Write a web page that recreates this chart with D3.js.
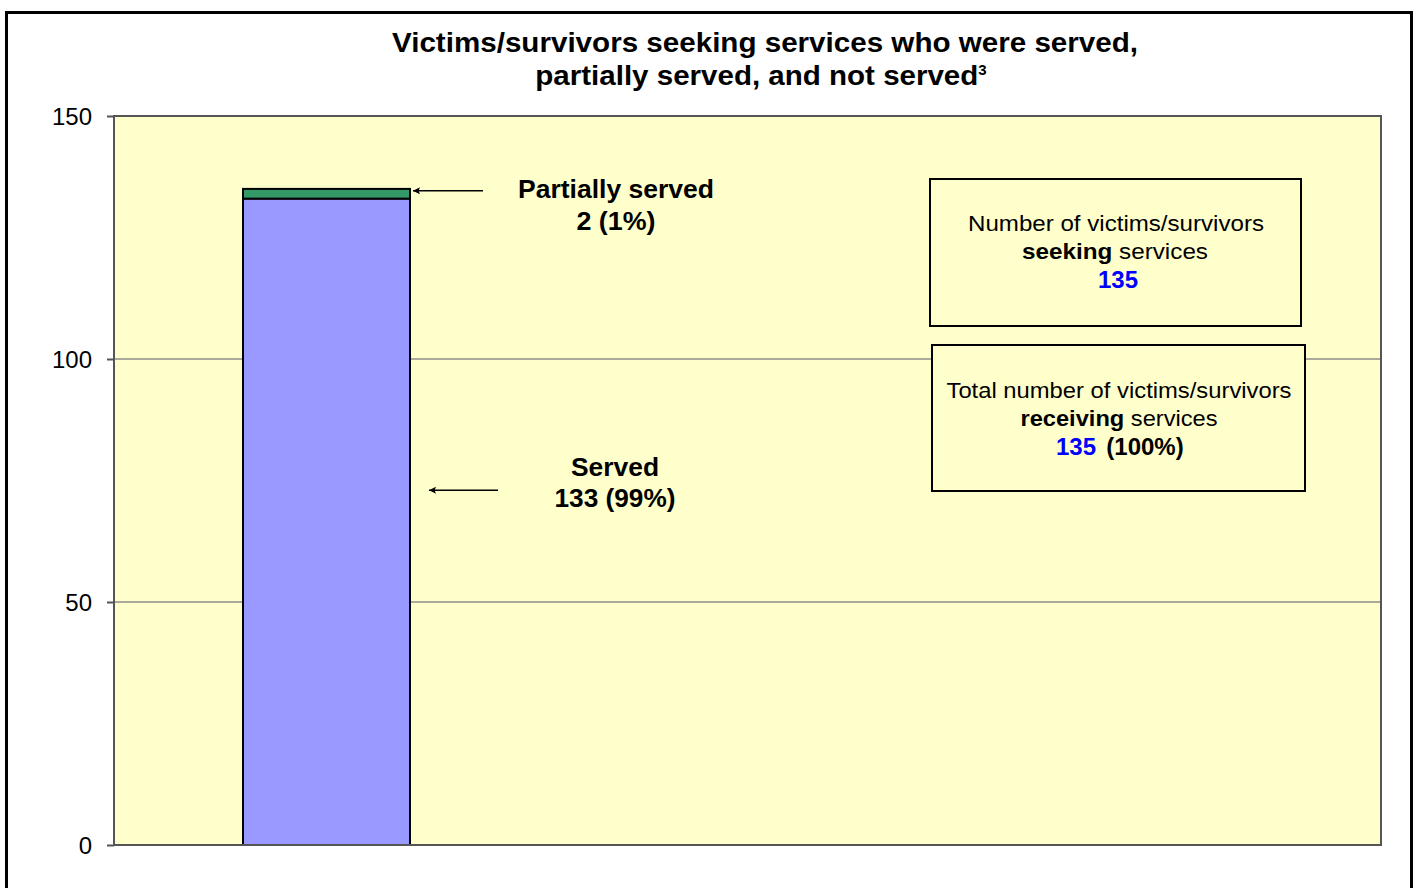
<!DOCTYPE html>
<html>
<head>
<meta charset="utf-8">
<script src="https://cdn.jsdelivr.net/npm/d3@7"></script>
<style>
  html, body { margin: 0; padding: 0; background: #ffffff; }
  svg { display: block; }
  text { font-family: "Liberation Sans", Arial, sans-serif; }
</style>
</head>
<body>
<svg id="chart" width="1414" height="888"></svg>
<script>
// ---- data ----
const categories = ["Victims/survivors"];
const seriesNames = ["Served", "Partially served"];
const servedValues = [133];
const partiallyServedValues = [2];
const yTicks = [0, 50, 100, 150];
const titleLines = ["Victims/survivors seeking services who were served,", "partially served, and not served"];
const seekingTotal = 135;
const receivingTotal = 135;
const receivingPct = "100%";
const servedPct = "99%";
const partialPct = "1%";

// ---- layout ----
const svg = d3.select("#chart");
const plot = { left: 114, top: 116, right: 1381, bottom: 845 };

// outer border
svg.append("rect").attr("x", 6.5).attr("y", 12.5).attr("width", 1405).attr("height", 900)
  .attr("fill", "#fff").attr("stroke", "#000").attr("stroke-width", 3);

const y = d3.scaleLinear().domain([0, 150]).range([plot.bottom, plot.top]);
// bar placement (single category band)
const barX = d3.scaleBand().domain(categories).range([243, 410]).padding(0);

// plot background
svg.append("rect").attr("x", plot.left).attr("y", plot.top)
  .attr("width", plot.right - plot.left).attr("height", plot.bottom - plot.top)
  .attr("fill", "#FFFFCC");

// gridlines
svg.append("g").selectAll("line").data(yTicks.filter(t => t > 0 && t < 150)).join("line")
  .attr("x1", plot.left).attr("x2", plot.right)
  .attr("y1", d => y(d)).attr("y2", d => y(d))
  .attr("stroke", "#8c8c8c").attr("stroke-width", 1.5);

// stacked bar
const stackData = categories.map((c, i) => ({ cat: c, Served: servedValues[i], "Partially served": partiallyServedValues[i] }));
const stacked = d3.stack().keys(seriesNames)(stackData);
const colors = { "Served": "#9999FF", "Partially served": "#339966" };
svg.append("g").selectAll("g").data(stacked).join("g")
  .attr("fill", d => colors[d.key])
  .selectAll("rect").data(d => d).join("rect")
  .attr("x", d => barX(d.data.cat)).attr("width", barX.bandwidth())
  .attr("y", d => y(d[1])).attr("height", d => y(d[0]) - y(d[1]))
  .attr("stroke", "#000").attr("stroke-width", 2);

// plot border
svg.append("rect").attr("x", plot.left).attr("y", plot.top)
  .attr("width", plot.right - plot.left).attr("height", plot.bottom - plot.top)
  .attr("fill", "none").attr("stroke", "#555").attr("stroke-width", 2);

// y axis
const yAxis = d3.axisLeft(y).tickValues(yTicks).tickSize(7).tickPadding(15);
const ag = svg.append("g").attr("transform", `translate(${plot.left},0)`).call(yAxis);
ag.select(".domain").remove();
ag.selectAll(".tick line").attr("stroke", "#555").attr("stroke-width", 2);
ag.selectAll(".tick text").attr("font-size", 24).attr("fill", "#000")
  .attr("font-family", "'Liberation Sans', Arial, sans-serif").attr("dy", "0.36em");

// title
svg.append("text").attr("x", 765).attr("y", 52).attr("text-anchor", "middle")
  .attr("font-size", 28).attr("font-weight", "bold")
  .attr("textLength", 746).attr("lengthAdjust", "spacingAndGlyphs").text(titleLines[0]);
const t2 = svg.append("text").attr("x", 761).attr("y", 85).attr("text-anchor", "middle")
  .attr("font-size", 28).attr("font-weight", "bold");
t2.append("tspan").attr("textLength", 443).attr("lengthAdjust", "spacingAndGlyphs").text(titleLines[1]);
t2.append("tspan").attr("font-size", 15).attr("dy", -10).text("3");

// arrow marker
const defs = svg.append("defs");
defs.append("marker").attr("id", "arr").attr("viewBox", "0 0 10 10")
  .attr("refX", 10).attr("refY", 5).attr("markerWidth", 9).attr("markerHeight", 7)
  .attr("markerUnits", "userSpaceOnUse").attr("orient", "auto")
  .append("path").attr("d", "M0,0 L10,5 L0,10 L2,5 Z").attr("fill", "#000");

const partialArrowY = y(134.6);
svg.append("line").attr("x1", 483).attr("x2", 413).attr("y1", partialArrowY).attr("y2", partialArrowY)
  .attr("stroke", "#000").attr("stroke-width", 1.5).attr("marker-end", "url(#arr)");
svg.append("line").attr("x1", 498).attr("x2", 429).attr("y1", y(73)).attr("y2", y(73))
  .attr("stroke", "#000").attr("stroke-width", 1.5).attr("marker-end", "url(#arr)");

// annotations
function label(xc, yb, txt, size, len) {
  const t = svg.append("text").attr("x", xc).attr("y", yb).attr("text-anchor", "middle")
    .attr("font-size", size).attr("font-weight", "bold").text(txt);
  if (len) t.attr("textLength", len).attr("lengthAdjust", "spacingAndGlyphs");
  return t;
}
label(616, 198, seriesNames[1], 25, 196);
label(616, 230, `${partiallyServedValues[0]} (${partialPct})`, 25, 79);
label(615, 476, seriesNames[0], 25, 88);
label(615, 507, `${servedValues[0]} (${servedPct})`, 25, 121);

// info boxes
function box(x0, y0, w, h) {
  svg.append("rect").attr("x", x0).attr("y", y0).attr("width", w).attr("height", h)
    .attr("fill", "#FFFFCC").attr("stroke", "#000").attr("stroke-width", 2);
}
box(930, 179, 371, 147);
box(932, 345, 373, 146);

svg.append("text").attr("x", 1116).attr("y", 231).attr("text-anchor", "middle").attr("font-size", 22)
  .attr("textLength", 296).attr("lengthAdjust", "spacingAndGlyphs").text("Number of victims/survivors");
const s2 = svg.append("text").attr("x", 1115).attr("y", 259).attr("text-anchor", "middle").attr("font-size", 22)
  .attr("textLength", 186).attr("lengthAdjust", "spacingAndGlyphs");
s2.append("tspan").attr("font-weight", "bold").text("seeking");
s2.append("tspan").text(" services");
svg.append("text").attr("x", 1118).attr("y", 288).attr("text-anchor", "middle").attr("font-size", 24)
  .attr("font-weight", "bold").attr("fill", "#0000FF").text(seekingTotal);

svg.append("text").attr("x", 1119).attr("y", 398).attr("text-anchor", "middle").attr("font-size", 22)
  .attr("textLength", 345).attr("lengthAdjust", "spacingAndGlyphs").text("Total number of victims/survivors");
const r2 = svg.append("text").attr("x", 1119).attr("y", 426).attr("text-anchor", "middle").attr("font-size", 22)
  .attr("textLength", 197).attr("lengthAdjust", "spacingAndGlyphs");
r2.append("tspan").attr("font-weight", "bold").text("receiving");
r2.append("tspan").text(" services");
svg.append("text").attr("x", 1076).attr("y", 455).attr("text-anchor", "middle").attr("font-size", 24)
  .attr("font-weight", "bold").attr("fill", "#0000FF").text(receivingTotal);
svg.append("text").attr("x", 1145).attr("y", 455).attr("text-anchor", "middle").attr("font-size", 24)
  .attr("font-weight", "bold").attr("fill", "#000").text(`(${receivingPct})`);
</script>
</body>
</html>
